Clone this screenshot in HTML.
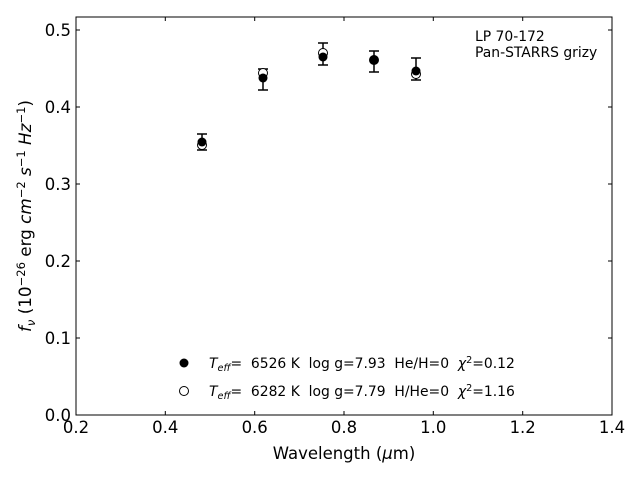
<!DOCTYPE html>
<html><head><style>body{margin:0;background:#fff} text{white-space:pre}</style></head><body>
<svg width="640" height="480" xmlns="http://www.w3.org/2000/svg" font-family="DejaVu Sans, sans-serif">
<rect x="76" y="17" width="536" height="398" fill="none" stroke="#000" stroke-width="1"/>
<g stroke="#000" stroke-width="1">
<line x1="76" y1="415" x2="76" y2="411"/><line x1="165.3" y1="415" x2="165.3" y2="411"/><line x1="254.7" y1="415" x2="254.7" y2="411"/><line x1="344" y1="415" x2="344" y2="411"/><line x1="433.3" y1="415" x2="433.3" y2="411"/><line x1="522.7" y1="415" x2="522.7" y2="411"/><line x1="612" y1="415" x2="612" y2="411"/>
<line x1="76" y1="17" x2="76" y2="21"/><line x1="165.3" y1="17" x2="165.3" y2="21"/><line x1="254.7" y1="17" x2="254.7" y2="21"/><line x1="344" y1="17" x2="344" y2="21"/><line x1="433.3" y1="17" x2="433.3" y2="21"/><line x1="522.7" y1="17" x2="522.7" y2="21"/>
<line x1="76" y1="338" x2="80" y2="338"/><line x1="76" y1="261" x2="80" y2="261"/><line x1="76" y1="184" x2="80" y2="184"/><line x1="76" y1="107" x2="80" y2="107"/><line x1="76" y1="30" x2="80" y2="30"/>
<line x1="612" y1="338" x2="608" y2="338"/><line x1="612" y1="261" x2="608" y2="261"/><line x1="612" y1="184" x2="608" y2="184"/><line x1="612" y1="107" x2="608" y2="107"/><line x1="612" y1="30" x2="608" y2="30"/>
</g>
<g font-size="16.5" text-anchor="middle">
<text x="76" y="433">0.2</text><text x="165.3" y="433">0.4</text><text x="254.7" y="433">0.6</text><text x="344" y="433">0.8</text><text x="433.3" y="433">1.0</text><text x="522.7" y="433">1.2</text><text x="612" y="433">1.4</text>
</g>
<g font-size="16.5" text-anchor="end">
<text x="71" y="421">0.0</text><text x="71" y="344">0.1</text><text x="71" y="267">0.2</text><text x="71" y="190">0.3</text><text x="71" y="113">0.4</text><text x="71" y="36">0.5</text>
</g>
<text x="344" y="459" font-size="16.5" text-anchor="middle">Wavelength (<tspan font-style="italic">μ</tspan>m)</text>
<text transform="translate(31,216) rotate(-90)" font-size="16.8" text-anchor="middle"><tspan font-style="italic">f</tspan><tspan font-style="italic" font-size="11.5" dy="4">ν</tspan><tspan dy="-4"> (10</tspan><tspan font-size="11.5" dy="-6">−26</tspan><tspan dy="6"> erg </tspan><tspan font-style="italic">cm</tspan><tspan font-size="11.5" dy="-6">−2</tspan><tspan dy="6" font-style="italic"> s</tspan><tspan font-size="11.5" dy="-6">−1</tspan><tspan dy="6" font-style="italic"> Hz</tspan><tspan font-size="11.5" dy="-6">−1</tspan><tspan dy="6">)</tspan></text>
<text x="475" y="41" font-size="13.9">LP 70-172</text>
<text x="475" y="57" font-size="13.9">Pan-STARRS grizy</text>
<g stroke="#000" stroke-width="1.5" fill="none">
<path d="M202 134V150M197 134H207M197 150H207"/>
<path d="M263 69V90M258 69H268M258 90H268"/>
<path d="M323 43V65M318 43H328M318 65H328"/>
<path d="M374 51V72M369 51H379M369 72H379"/>
<path d="M416 58V80M411 58H421M411 80H421"/>
</g>
<g fill="#fff" stroke="#000" stroke-width="1">
<circle cx="202" cy="145" r="4.5"/><circle cx="263" cy="73" r="4.5"/><circle cx="323" cy="53" r="4.5"/><circle cx="374" cy="60" r="4.5"/><circle cx="416" cy="74" r="4.5"/>
</g>
<g fill="#000">
<circle cx="202" cy="142" r="4.5"/><circle cx="263" cy="78" r="4.5"/><circle cx="323" cy="57" r="4.5"/><circle cx="374" cy="60" r="4.5"/><circle cx="416" cy="71" r="4.5"/>
</g>
<circle cx="184" cy="363" r="4.5" fill="#000"/>
<circle cx="184" cy="391" r="4.5" fill="#fff" stroke="#000"/>
<text x="209" y="368" font-size="13.9"><tspan font-style="italic">T</tspan><tspan font-style="italic" font-size="9.7" dy="3">eff</tspan><tspan dy="-3">=  6526 K  log g=7.93  He/H=0  </tspan><tspan font-style="italic">χ</tspan><tspan font-size="9.7" dy="-5">2</tspan><tspan dy="5">=0.12</tspan></text>
<text x="209" y="396" font-size="13.9"><tspan font-style="italic">T</tspan><tspan font-style="italic" font-size="9.7" dy="3">eff</tspan><tspan dy="-3">=  6282 K  log g=7.79  H/He=0  </tspan><tspan font-style="italic">χ</tspan><tspan font-size="9.7" dy="-5">2</tspan><tspan dy="5">=1.16</tspan></text>
</svg>
</body></html>
